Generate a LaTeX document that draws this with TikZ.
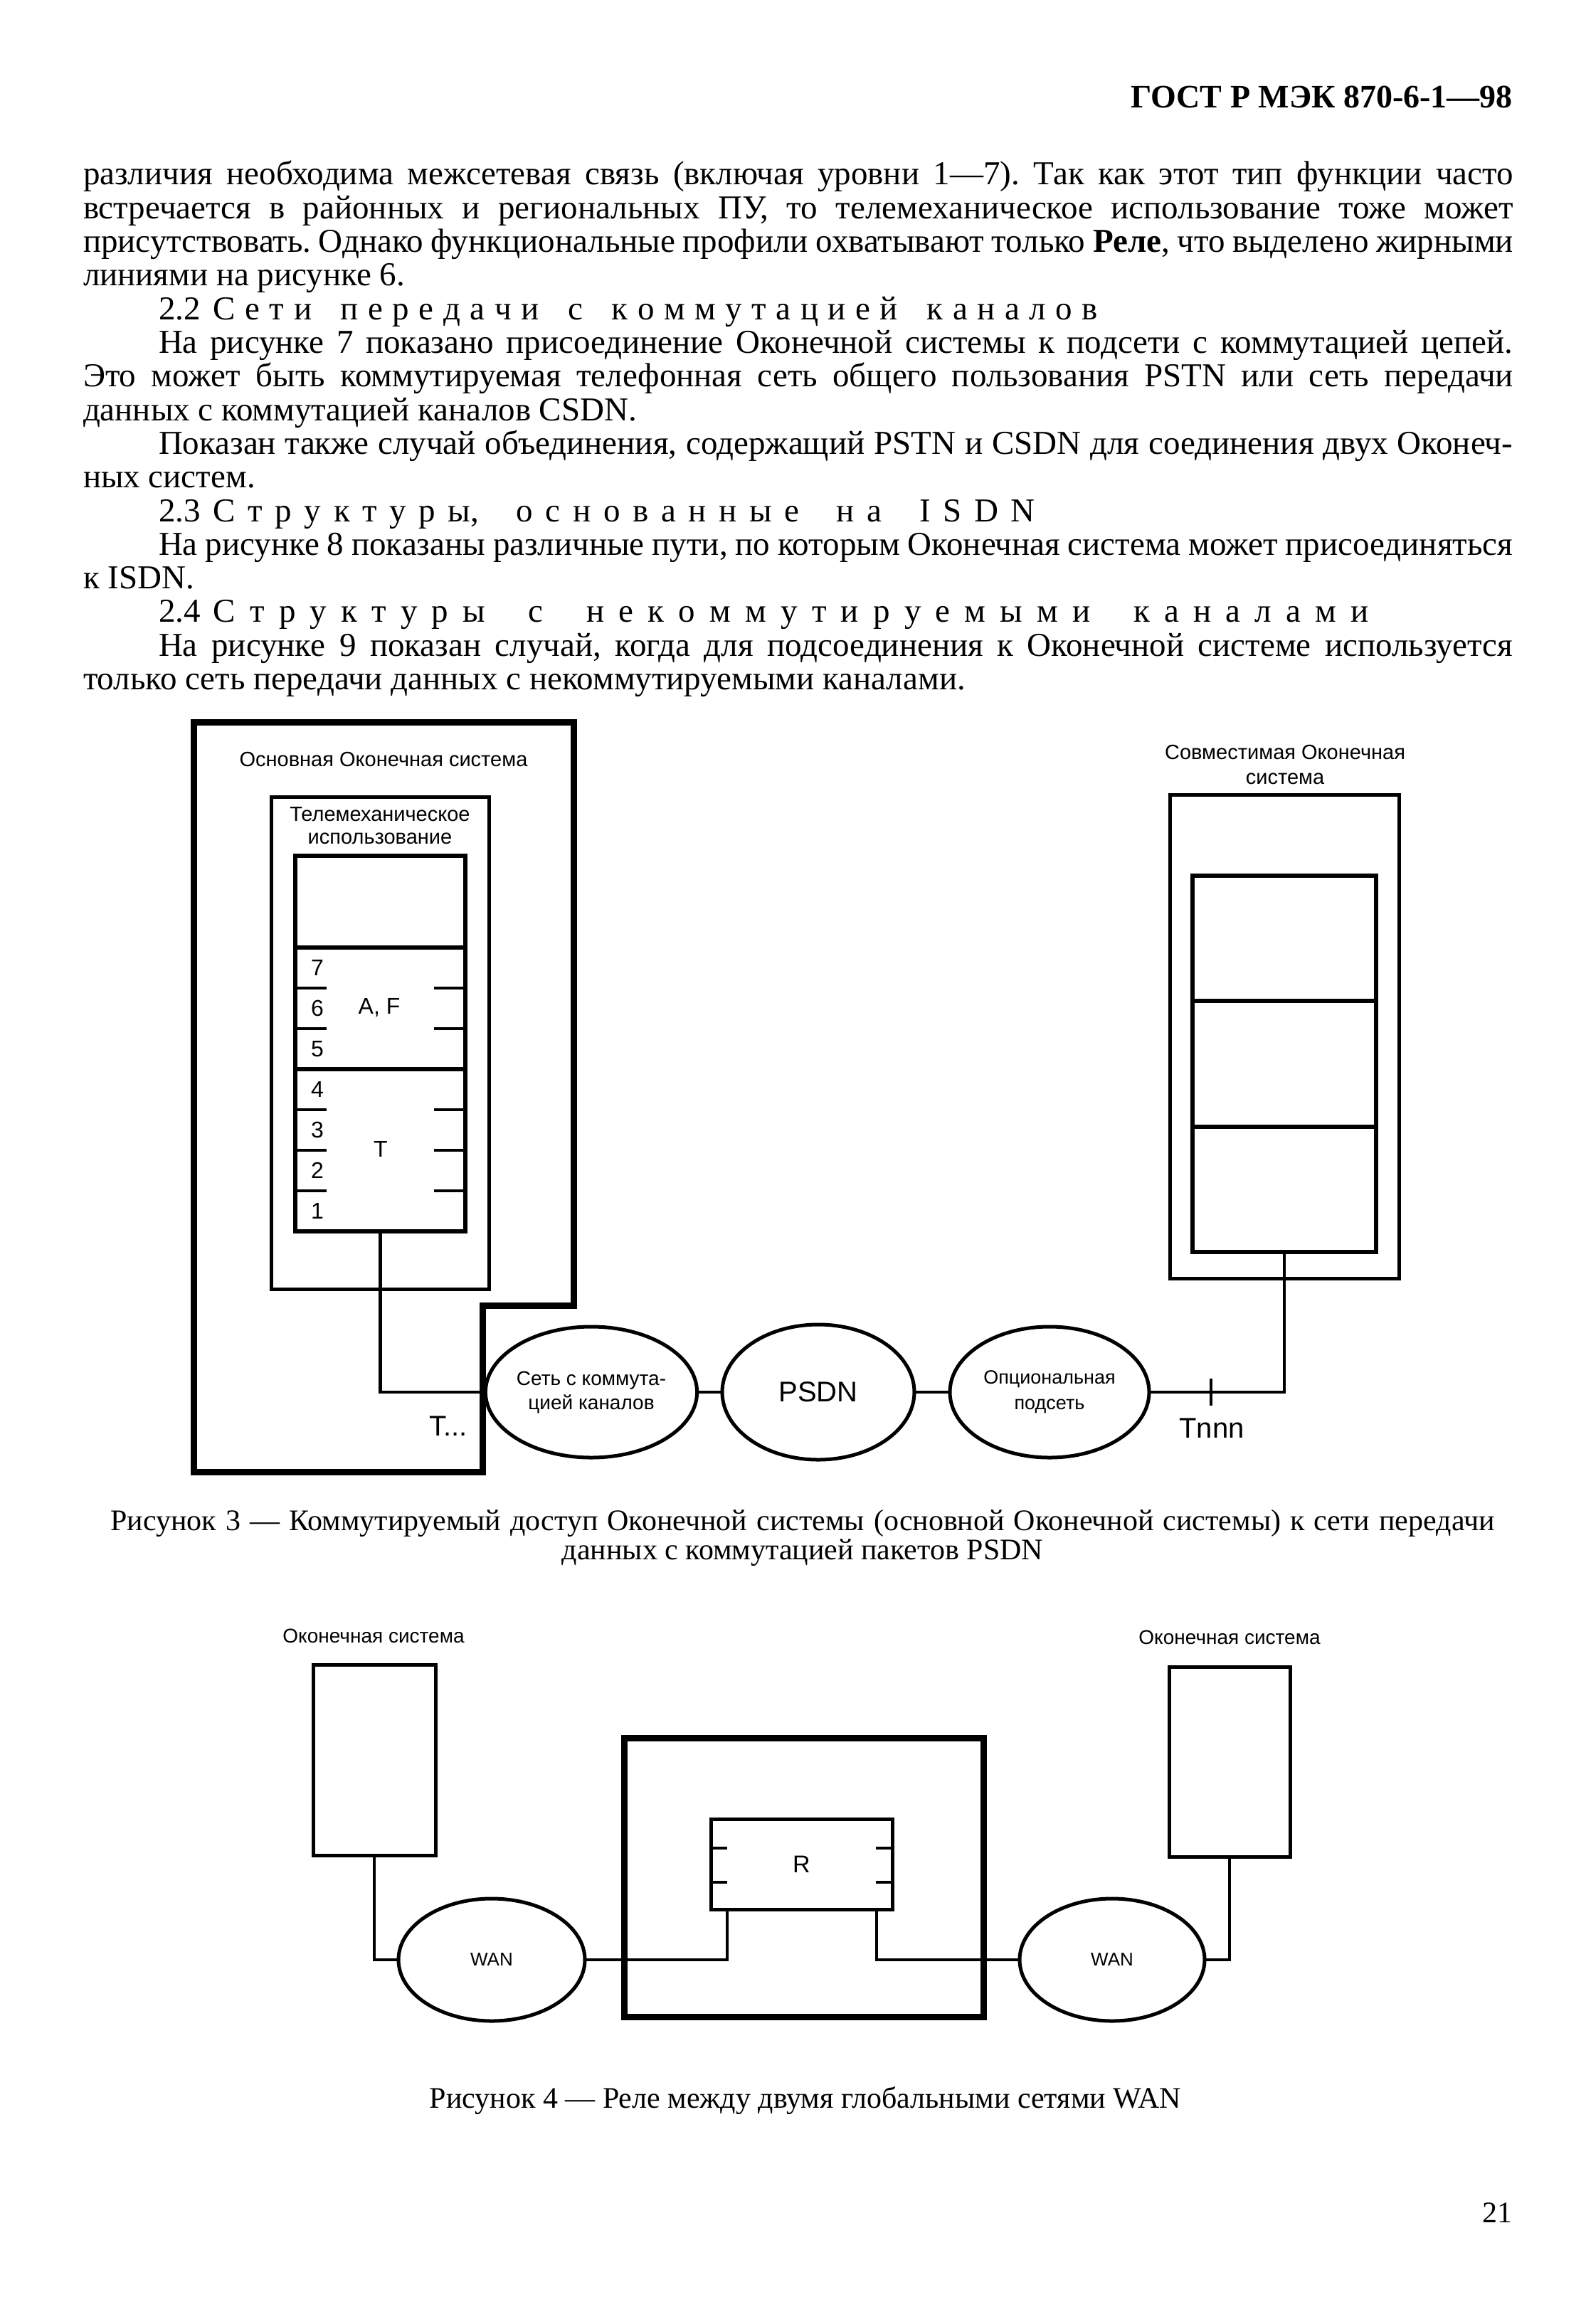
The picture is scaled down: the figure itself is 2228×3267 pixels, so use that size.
\documentclass[tikz,border=0pt]{standalone}
\usepackage{fontspec}
\setmainfont{Liberation Serif}
\newfontfamily\sansf{Liberation Sans}
\usetikzlibrary{shapes.geometric}
\frenchspacing
\newcommand{\fs}[2]{\fontsize{#1}{#2}\selectfont}
% justified body line: name, x, baseline y, width, text
\newcommand{\jl}[5]{\node[txt] (#1) at (#2,#3) {\fs{47}{47}\makebox[#4pt][s]{#5}};}
% left-aligned body line
\newcommand{\lline}[4]{\node[txt] (#1) at (#2,#3) {\fs{47}{47}#4};}
\begin{document}
\begin{tikzpicture}[x=1pt,y=-1pt,
  txt/.style={anchor=base west,inner sep=0pt,outer sep=0pt},
  lbl/.style={inner sep=0pt,outer sep=0pt,align=center},
  thinline/.style={line width=4.5pt},
  boxline/.style={line width=5.5pt},
  heavyline/.style={line width=9pt},
  box/.style={draw,rectangle,inner sep=0pt,outer sep=0pt,line width=5pt},
  cloud/.style={draw,ellipse,inner sep=0pt,outer sep=0pt,line width=5pt,align=center},
  tick/.style={line width=4.5pt}]
\useasboundingbox (0,0) rectangle (2228,3267);

% ---------- header ----------
\node[anchor=base east,inner sep=0pt] (hdr) at (2126,152) {\fs{46}{48}\bfseries ГОСТ Р МЭК 870-6-1—98};

% ---------- body text ----------
\jl{t1}{117}{260}{2010}{различия необходима межсетевая связь (включая уровни 1—7). Так как этот тип функции часто}
\jl{t2}{117}{307.3}{2010}{встречается в районных и региональных ПУ, то телемеханическое использование тоже может}
\jl{t3}{117}{354.6}{2010}{присутствовать. Однако функциональные профили охватывают только \textbf{Реле}, что выделено жирными}
\lline{t4}{117}{401.9}{линиями на рисунке 6.}
\lline{t5}{223}{449.2}{2.2\hspace{18pt}\makebox[1243pt][s]{С е т и\ \ \ п е р е д а ч и\ \ \ с\ \ \ к о м м у т а ц и е й\ \ \ к а н а л о в}}
\jl{t6}{223}{496.5}{1903}{На рисунке 7 показано присоединение Оконечной системы к подсети с коммутацией цепей.}
\jl{t7}{117}{543.8}{2010}{Это может быть коммутируемая телефонная сеть общего пользования PSTN или сеть передачи}
\lline{t8}{117}{591.1}{данных с коммутацией каналов CSDN.}
\jl{t9}{223}{638.4}{1903}{Показан также случай объединения, содержащий PSTN и CSDN для соединения двух Оконеч-}
\lline{t10}{117}{685.7}{ных систем.}
\lline{t11}{223}{733}{2.3\hspace{18pt}\makebox[1155pt][s]{С т р у к т у р ы,\ \ \ о с н о в а н н ы е\ \ \ н а\ \ \ I S D N}}
\jl{t12}{223}{780.3}{1903}{На рисунке 8 показаны различные пути, по которым Оконечная система может присоединяться}
\lline{t13}{117}{827.6}{к ISDN.}
\lline{t14}{223}{874.9}{2.4\hspace{18pt}\makebox[1624pt][s]{С т р у к т у р ы\ \ \ с\ \ \ н е к о м м у т и р у е м ы м и\ \ \ к а н а л а м и}}
\jl{t15}{223}{922.2}{1903}{На рисунке 9 показан случай, когда для подсоединения к Оконечной системе используется}
\lline{t16}{117}{969.5}{только сеть передачи данных с некоммутируемыми каналами.}

% ---------- Figure 3 ----------
% main end system outline (L-shaped)
\draw[heavyline,line join=miter] (272,1015) -- (806,1015) -- (806,1835) -- (678,1835) -- (678,2069) -- (272,2069) -- cycle;
\node[lbl,font=\sansf\fs{29}{32}] (mainT) at (539,1068) {Основная Оконечная система};
\node[box,minimum width=306pt,minimum height=692pt] (tele) at (534,1466) {};
\node[lbl,font=\sansf\fs{29}{32}] (teleT) at (534,1161) {Телемеханическое\\использование};
\node[box,line width=6pt,minimum width=239pt,minimum height=528pt] (stack) at (534.5,1467) {};
\draw[boxline] (stack.west |- 0,1332) -- (stack.east |- 0,1332);
\draw[boxline] (stack.west |- 0,1503) -- (stack.east |- 0,1503);
\foreach \yy in {1389,1446,1560,1617,1674}{
  \draw[tick] (415,\yy) -- (459,\yy);
  \draw[tick] (610,\yy) -- (654,\yy);
}
\tikzset{num/.style={lbl,font=\sansf\fs{32}{32}}}
\node[num] (l7) at (446,1360.5) {7};
\node[num] (l6) at (446,1417.5) {6};
\node[num] (l5) at (446,1474.5) {5};
\node[num] (l4) at (446,1531.5) {4};
\node[num] (l3) at (446,1588.5) {3};
\node[num] (l2) at (446,1645.5) {2};
\node[num] (l1) at (446,1702.5) {1};
\node[num] (af) at (533,1417) {A, F};
\node[num] (tt) at (535,1615) {T};

\node[cloud,font=\sansf\fs{28}{34},minimum width=278pt,minimum height=184pt] (csn) at (831,1957) {Сеть с коммута-\\цией каналов};
\node[cloud,font=\sansf\fs{40}{40},minimum width=270pt,minimum height=190pt] (psdn) at (1150,1957) {PSDN};
\node[cloud,font=\sansf\fs{27}{36},minimum width=280pt,minimum height=184pt] (opt) at (1475,1957) {Опциональная\\подсеть};

% compatible end system
\node[lbl,font=\sansf\fs{29}{35}] (compT) at (1806,1075) {Совместимая Оконечная\\система};
\node[box,minimum width=322pt,minimum height=680pt] (comp) at (1805,1457) {};
\node[box,line width=6pt,minimum width=258pt,minimum height=529pt] (cstack) at (1805,1495.5) {};
\draw[boxline] (cstack.west |- 0,1407) -- (cstack.east |- 0,1407);
\draw[boxline] (cstack.west |- 0,1584) -- (cstack.east |- 0,1584);

% connectors
\draw[thinline] (stack.south) |- (csn.west);
\draw[thinline] (csn.east) -- (psdn.west);
\draw[thinline] (psdn.east) -- (opt.west);
\draw[thinline] (opt.east) -| (cstack.south);
\coordinate (tnp) at (1702,1957);
\draw[tick] ([yshift=19pt]tnp) -- ([yshift=-19pt]tnp);
\node[lbl,font=\sansf\fs{40}{40}] (tdots) at (630,2005) {T...};
\node[lbl,font=\sansf\fs{40}{40}] (tnnn) at (1703,2008) {Tnnn};

\node[anchor=base,inner sep=0pt] (cap3a) at (1128,2151) {\fs{42}{44}\makebox[1945pt][s]{Рисунок 3 — Коммутируемый доступ Оконечной системы (основной Оконечной системы) к сети передачи}};
\node[anchor=base,inner sep=0pt] (cap3b) at (1128,2192) {\fs{42}{44}данных с коммутацией пакетов PSDN};

% ---------- Figure 4 ----------
\node[lbl,font=\sansf\fs{28}{30}] (esLT) at (525,2300) {Оконечная система};
\node[lbl,font=\sansf\fs{28}{30}] (esRT) at (1728,2302) {Оконечная система};
\node[box,minimum width=172pt,minimum height=268pt] (esL) at (526,2474) {};
\node[box,minimum width=170pt,minimum height=267pt] (esR) at (1728,2476.5) {};
\node[cloud,font=\sansf\fs{26}{26},minimum width=262pt,minimum height=172pt] (wanL) at (691,2755) {WAN};
\node[cloud,font=\sansf\fs{26}{26},minimum width=260pt,minimum height=172pt] (wanR) at (1563,2755) {WAN};
\node[box,line width=9pt,minimum width=505pt,minimum height=392pt] (relay) at (1129.5,2639) {};
\node[box,font=\sansf\fs{34}{34},minimum width=255pt,minimum height=127pt] (rbox) at (1126.5,2620.5) {R};
\foreach \yy in {2598,2646}{
  \draw[tick] (999,\yy) -- (1022,\yy);
  \draw[tick] (1231,\yy) -- (1254,\yy);
}
\draw[thinline] (esL.south) |- (wanL.west);
\draw[thinline] (wanL.east) -| ([xshift=23pt]rbox.south west);
\draw[thinline] ([xshift=-22pt]rbox.south east) |- (wanR.west);
\draw[thinline] (esR.south) |- (wanR.east);

\node[anchor=base,inner sep=0pt] (cap4) at (1132,2963) {\fs{42}{44}Рисунок 4 — Реле между двумя глобальными сетями WAN};
\node[anchor=base east,inner sep=0pt] (pgno) at (2126,3124) {\fs{42}{44}21};
\end{tikzpicture}
\end{document}
